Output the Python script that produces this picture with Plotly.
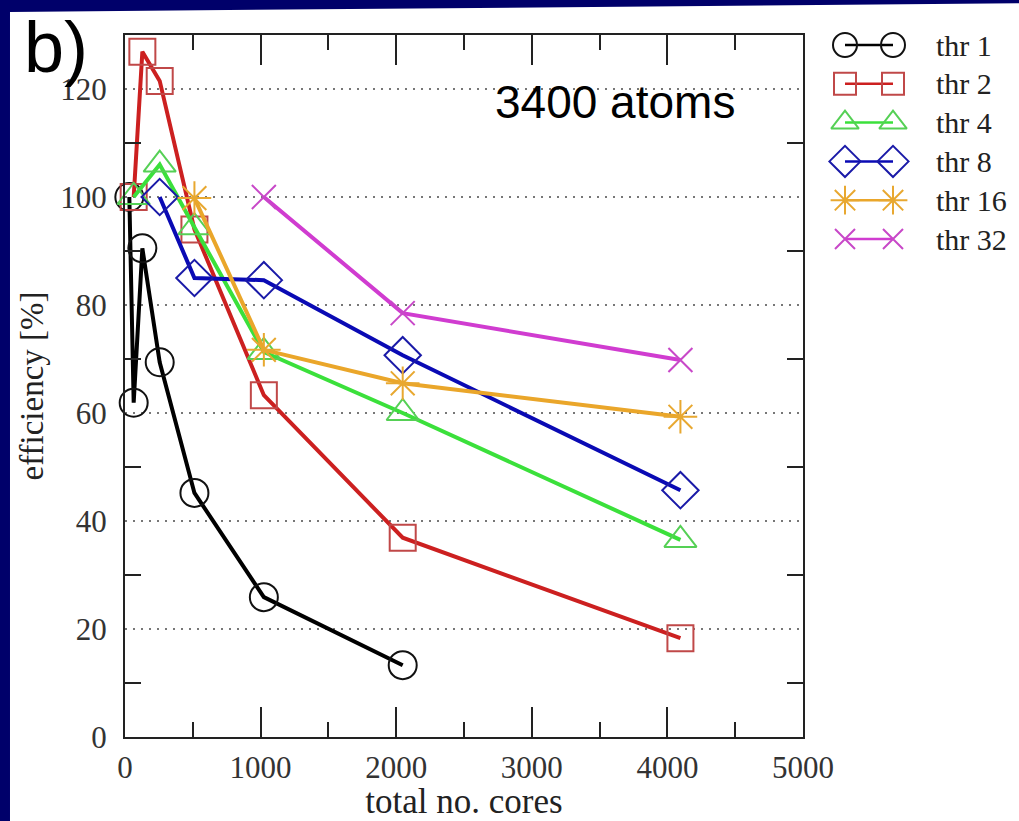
import plotly.graph_objects as go

# ---- data ----
series_names = ["thr 1", "thr 2", "thr 4", "thr 8", "thr 16", "thr 32"]
cores_thr1 = [32, 64, 128, 256, 512, 1024, 2048]
eff_thr1 = [100, 61.9, 90.5, 69.4, 45.2, 25.9, 13.3]
cores_thr2 = [64, 128, 256, 512, 1024, 2048, 4096]
eff_thr2 = [100, 126.9, 121.5, 94.0, 63.3, 36.9, 18.3]
cores_thr4 = [64, 256, 512, 1024, 2048, 4096]
eff_thr4 = [100, 106.0, 94.4, 71.3, 60.0, 36.5]
cores_thr8 = [256, 512, 1024, 2048, 4096]
eff_thr8 = [100, 85.0, 84.6, 70.7, 45.7]
cores_thr16 = [512, 1024, 2048, 4096]
eff_thr16 = [99.8, 71.7, 65.5, 59.3]
cores_thr32 = [1024, 2048, 4096]
eff_thr32 = [100, 78.5, 69.8]

xs = [cores_thr1, cores_thr2, cores_thr4, cores_thr8, cores_thr16, cores_thr32]
ys = [eff_thr1, eff_thr2, eff_thr4, eff_thr8, eff_thr16, eff_thr32]
line_colors = ["#000000", "#cc2020", "#3be03b", "#0a0ab4", "#eaa62a", "#d03cd0"]
marker_colors = ["#111111", "#c04848", "#55d055", "#1a1aa8", "#e8a830", "#c848c8"]
symbols = ["circle-open", "square-open", "triangle-up-open", "diamond-open",
           "asterisk-open", "x-thin-open"]
msizes = [28, 26, 28, 28, 28, 24]

fig = go.Figure()
for name, x, y, lc, mc, sym, ms in zip(series_names, xs, ys, line_colors,
                                       marker_colors, symbols, msizes):
    fig.add_trace(go.Scatter(
        x=x, y=y, name=name, mode="lines+markers",
        line=dict(color=lc, width=4),
        marker=dict(symbol=sym, size=ms, color=mc, line=dict(color=mc, width=2)),
        showlegend=False, cliponaxis=False,
    ))

# custom legend (two markers joined by a line), on its own axes
for i, (name, lc, mc, sym, ms) in enumerate(zip(series_names, line_colors,
                                                marker_colors, symbols, msizes)):
    fig.add_trace(go.Scatter(
        x=[0, 1], y=[i, i], mode="lines+markers", xaxis="x2", yaxis="y2",
        line=dict(color=lc, width=2.5),
        marker=dict(symbol=sym, size=ms - 4, color=mc, line=dict(color=mc, width=2)),
        showlegend=False, hoverinfo="skip", cliponaxis=False,
    ))
    fig.add_annotation(x=1.85, y=i, xref="x2", yref="y2", text=name,
                       showarrow=False, xanchor="left", yanchor="middle",
                       font=dict(family="Liberation Serif", size=30, color="#222"))

serif = "Liberation Serif"
W, H = 1019, 821
L, T, B = 125, 35, 84
plot_w = W - L
plot_h = H - T - B
main_right_px = 803
xdom = (main_right_px - L) / plot_w


def px(xp):
    return (xp - L) / plot_w


def py(yp):
    return (H - B - yp) / plot_h


fig.update_layout(
    width=W, height=H,
    margin=dict(l=L, r=0, t=T, b=B, autoexpand=False),
    paper_bgcolor="#00006a",
    plot_bgcolor="white",
    showlegend=False,
    xaxis=dict(
        domain=[0, xdom], range=[0, 5000], tickvals=[0, 1000, 2000, 3000, 4000, 5000],
        ticks="inside", ticklen=30, tickwidth=2, tickcolor="#222",
        minor=dict(ticks="inside", ticklen=15, tickwidth=2, tickcolor="#222",
                   tickvals=[500, 1500, 2500, 3500, 4500]),
        showline=True, linewidth=2, linecolor="#222", mirror="ticks",
        showgrid=False, zeroline=False, automargin=False,
        tickfont=dict(family=serif, size=31, color="#333"),
        ticklabelstandoff=2,
        title=dict(text="total no. cores", font=dict(family=serif, size=35, color="#222"),
                   standoff=0),
    ),
    yaxis=dict(
        range=[0, 130], tickvals=[0, 20, 40, 60, 80, 100, 120],
        ticks="",
        minor=dict(ticks="inside", ticklen=16, tickwidth=2, tickcolor="#222",
                   tickvals=[10, 30, 50, 70, 90, 110]),
        showline=True, linewidth=2, linecolor="#222", mirror="ticks",
        showgrid=True, gridcolor="#777", gridwidth=2, griddash="2px,6px",
        zeroline=False, automargin=False,
        tickfont=dict(family=serif, size=31, color="#333"),
        ticklabelstandoff=10,
        title=dict(text="efficiency [%]", font=dict(family=serif, size=33, color="#222"),
                   standoff=7),
    ),
    xaxis2=dict(domain=[px(830), 1], range=[(830 - 845) / 48, (W - 845) / 48],
                visible=False, anchor="y2", automargin=False),
    yaxis2=dict(domain=[0, 1], range=[(737 - 45) / 38.8, (35 - 45) / 38.8],
                visible=False, anchor="x2", automargin=False),
)

# white page area inside the navy frame (top edge slightly tilted)
path = "M {:.5f},{:.5f} L {:.5f},{:.5f} L {:.5f},{:.5f} L {:.5f},{:.5f} Z".format(
    px(10), py(12), px(1040), py(3), px(1040), py(840), px(10), py(840))
fig.add_shape(type="path", xref="paper", yref="paper", path=path,
              fillcolor="white", line=dict(width=0), layer="below")

fig.add_annotation(x=px(615), y=py(102), xref="paper", yref="paper",
                   text="3400 atoms", showarrow=False, xanchor="center", yanchor="middle",
                   font=dict(family="Liberation Sans", size=46, color="black"))
fig.add_annotation(x=px(22), y=py(47), xref="paper", yref="paper",
                   text="b)", showarrow=False, xanchor="left", yanchor="middle",
                   font=dict(family="Liberation Sans", size=72, color="black"))

fig.write_html("out.html")
